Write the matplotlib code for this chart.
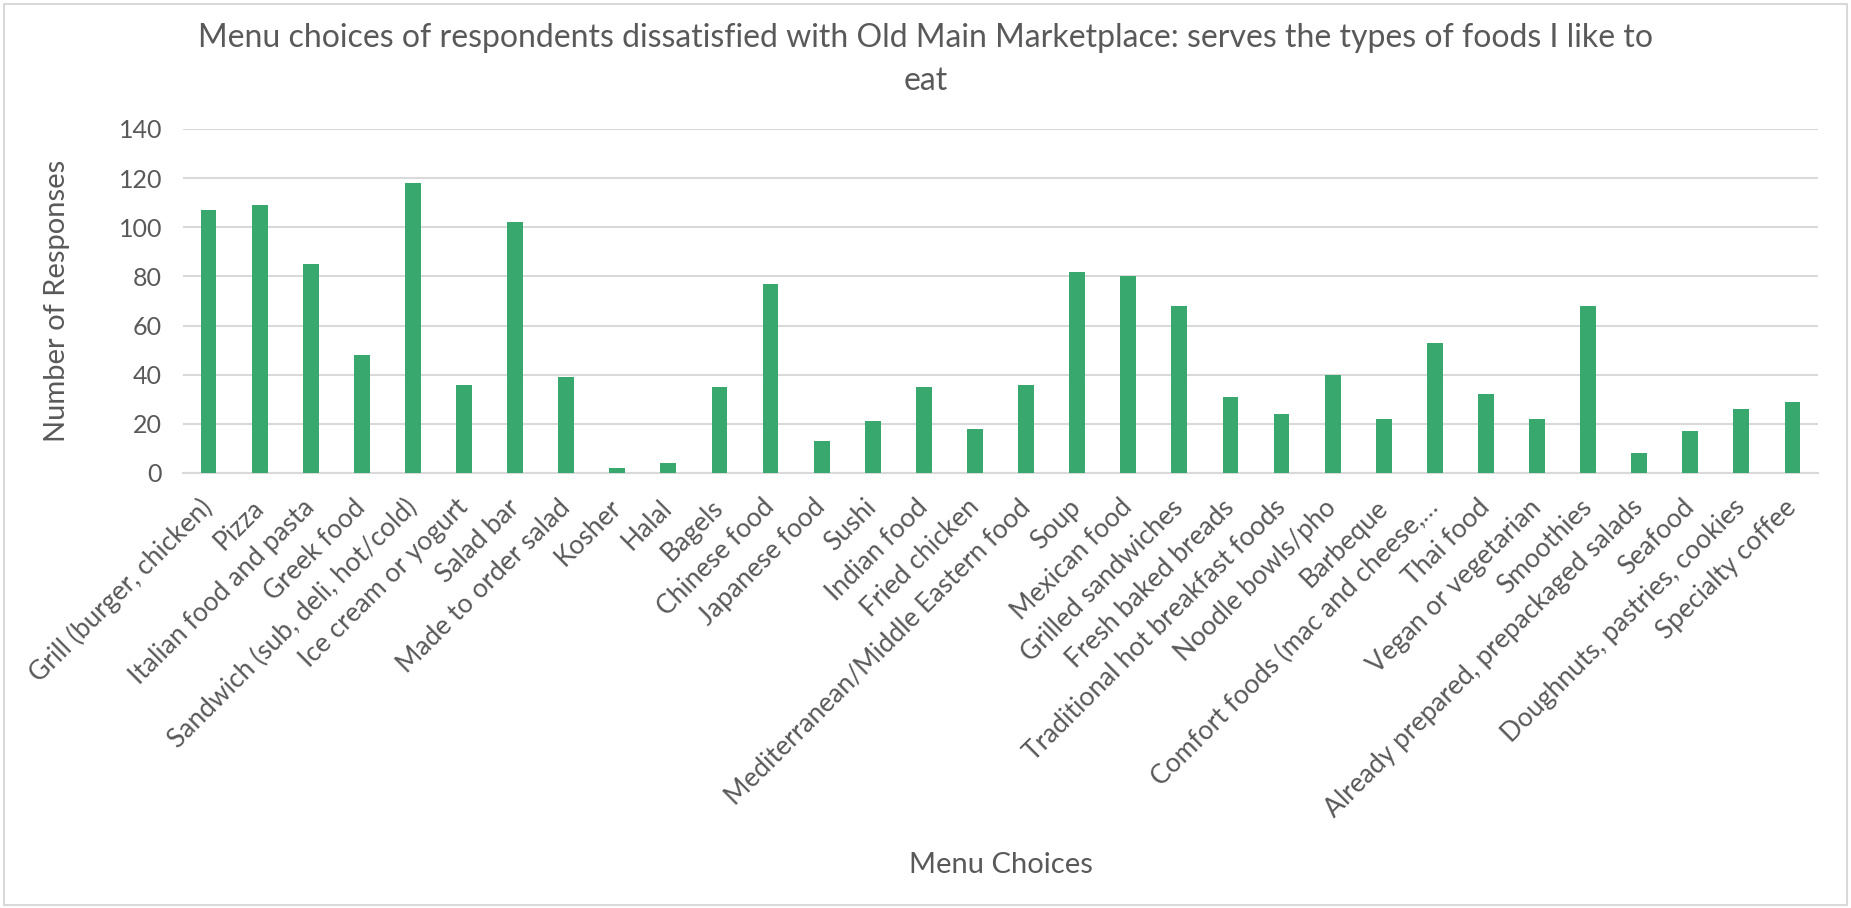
import matplotlib
matplotlib.use('Agg')
import matplotlib.pyplot as plt
from matplotlib.patches import Rectangle

plt.rcParams['font.family'] = ['Lato', 'DejaVu Sans']

# data
choices = ['Grill (burger, chicken)', 'Pizza', 'Italian food and pasta', 'Greek food',
           'Sandwich (sub, deli, hot/cold)', 'Ice cream or yogurt', 'Salad bar',
           'Made to order salad', 'Kosher', 'Halal', 'Bagels', 'Chinese food',
           'Japanese food', 'Sushi', 'Indian food', 'Fried chicken',
           'Mediterranean/Middle Eastern food', 'Soup', 'Mexican food',
           'Grilled sandwiches', 'Fresh baked breads', 'Traditional hot breakfast foods',
           'Noodle bowls/pho', 'Barbeque', 'Comfort foods (mac and cheese,\u2026',
           'Thai food', 'Vegan or vegetarian', 'Smoothies',
           'Already prepared, prepackaged salads', 'Seafood',
           'Doughnuts, pastries, cookies', 'Specialty coffee']
responses = [107, 109, 85, 48, 118, 36, 102, 39, 2, 4, 35, 77, 13, 21, 35, 18,
             36, 82, 80, 68, 31, 24, 40, 22, 53, 32, 22, 68, 8, 17, 26, 29]
yticks = [0, 20, 40, 60, 80, 100, 120, 140]

txt = '#595959'
grid = '#D9D9D9'
green = '#38A86E'

fig = plt.figure(figsize=(18.51, 9.08), dpi=100)
ax = fig.add_axes([183/1851, 1-473/908, (1818-183)/1851, (473-129)/908])

x = range(len(choices))
ax.bar(x, responses, width=0.31, color=green, zorder=3)

ax.set_ylim(0, 140)
ax.set_xlim(-0.5, len(choices)-0.5)
ax.set_yticks(yticks)
ax.yaxis.grid(True, color=grid, linewidth=1.5, zorder=0)
for s in ['top', 'right', 'left']:
    ax.spines[s].set_visible(False)
ax.spines['bottom'].set_color(grid)
ax.spines['bottom'].set_linewidth(1.5)
ax.tick_params(axis='both', length=0, colors=txt)
ax.tick_params(axis='y', pad=15, labelsize=18)
ax.tick_params(axis='x', pad=22)
ax.set_xticks(list(x))
ax.set_xticklabels(choices, rotation=45, ha='right', va='center', rotation_mode='anchor',
                   fontsize=19)

ax.set_ylabel('Number of Responses', fontsize=21, color=txt)
ax.set_xlabel('Menu Choices', fontsize=21, color=txt, va='center')
ax.xaxis.set_label_coords(0.5, -392/344)
ax.yaxis.set_label_coords(-0.069, 0.5)

# title, wrapped as in the original
fig.text(0.5, 1-47/908, 'Menu choices of respondents dissatisfied with Old Main Marketplace: serves the types of foods I like to',
         ha='center', va='baseline', fontsize=23, color=txt)
fig.text(0.5, 1-90/908, 'eat', ha='center', va='baseline', fontsize=23, color=txt)

fig.patches.append(Rectangle((4/1851, 3/908), 1843/1851, 901/908, transform=fig.transFigure,
                             fill=False, edgecolor=grid, linewidth=1.5))

fig.savefig('out.png', dpi=100)
